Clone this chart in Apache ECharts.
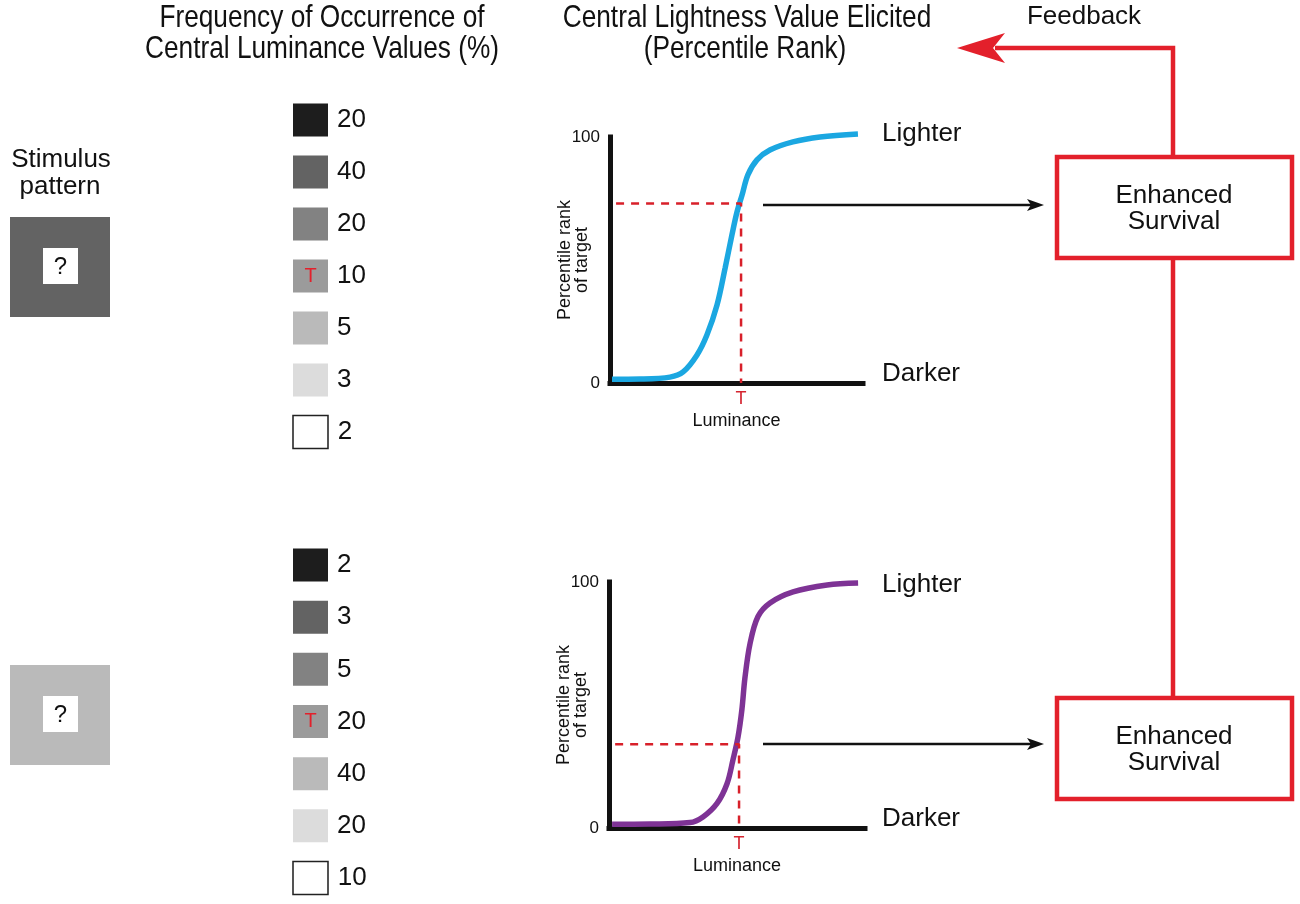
<!DOCTYPE html>
<html><head><meta charset="utf-8">
<script src="https://cdn.jsdelivr.net/npm/echarts@6/dist/echarts.min.js"></script>
<style>html,body{margin:0;padding:0;background:#fff}#c{width:1300px;height:904px}</style>
</head><body><div id="c"></div>
<script>
// ---------- data ----------
const freqTop = [20, 40, 20, 10, 5, 3, 2];
const freqBottom = [2, 3, 5, 20, 40, 20, 10];
const grayLevels = ['#1d1d1d', '#636363', '#828282', '#9b9b9b', '#bababa', '#dcdcdc', '#ffffff'];
const targetIndex = 3;
const yTicks = [0, 100];
// percentile rank curves (x = luminance 0..100, y = percentile rank)
const curveTop = [[0.8,1.5],[11.9,1.6],[23.7,2.4],[28.9,4.5],[34.4,11.4],[38.3,19.5],[42.3,31.7],[45.5,46.7],[48.2,60.2],[50.2,69.5],[52.2,76.4],[54.5,84.6],[58.1,90.7],[63.2,94.7],[72.3,98],[83,100],[98,101.2]];
const curveBottom = [[1.2,1.5],[16,1.6],[31.6,2.2],[36.7,4.5],[42.2,10],[46.1,18],[48.4,27.6],[50.4,37],[51.9,48],[53.1,61],[55.1,75],[58.2,86],[62.9,91.5],[71.9,96],[85.2,98.8],[97.3,99.6]];
const targetTop = {x: 51.8, y: 73, start: 2.4};
const targetBottom = {x: 50.8, y: 34, start: 2.4};

const RED = '#e3202b';
const F = '"Liberation Sans", Arial, sans-serif';

function argmax(a){let m=0;a.forEach((v,i)=>{if(v>a[m])m=i;});return m;}

function chartAxes(gi){
  return {
    x: {type:'value', gridIndex:gi, min:0, max:100, name:'Luminance', nameLocation:'middle', nameGap:29, nameMoveOverlap:false,
        nameTextStyle:{fontSize:18, color:'#111', fontFamily:F},
        axisLine:{show:true, lineStyle:{color:'#111', width:5, cap:'square'}}, axisTick:{show:false}, axisLabel:{show:false}, splitLine:{show:false}},
    y: {type:'value', gridIndex:gi, min:0, max:100, interval:100, name:'Percentile rank\nof target', nameLocation:'middle', nameRotate:90, nameGap:19, nameMoveOverlap:false,
        nameTextStyle:{fontSize:18, color:'#111', fontFamily:F, lineHeight:17},
        axisLine:{show:true, lineStyle:{color:'#111', width:5, cap:'square'}}, axisTick:{show:false},
        axisLabel:{show:true, fontSize:17, color:'#111', fontFamily:F, margin:10, customValues: yTicks}, splitLine:{show:false}}
  };
}
const a0 = chartAxes(0), a1 = chartAxes(1);

function curveSeries(gi, data, color){
  return {type:'line', xAxisIndex:gi, yAxisIndex:gi, data:data, smooth:0.35, showSymbol:false, clip:false,
    lineStyle:{color:color, width:5.5}, z:3, silent:true};
}
function dashSeries(gi, t){
  return {type:'line', xAxisIndex:gi, yAxisIndex:gi, showSymbol:true, symbolSize:0, clip:false, silent:true, z:4,
    lineStyle:{color:'#d8202a', width:2.5, type:[8,7]},
    data:[[t.start, t.y],[t.x, t.y],{value:[t.x, 0], label:{show:true, position:'bottom', distance:7, formatter:'T', color:'#d52530', fontSize:18, fontFamily:F}}]};
}
function squareSeries(gi, freq){
  return {type:'scatter', xAxisIndex:gi, yAxisIndex:gi, symbol:'rect', symbolSize:[35,33], silent:true,
    itemStyle:{opacity:1},
    data: freq.map((v,i)=>({value:[0,i], label:{formatter:String(v)},
      itemStyle:{opacity:1, color:grayLevels[i], borderColor: i===grayLevels.length-1 ? '#222' : grayLevels[i], borderWidth: i===grayLevels.length-1 ? 1.5 : 0}})),
    label:{show:true, position:'right', distance:9, fontSize:26, color:'#111', fontFamily:F}};
}
function targetMark(gi){
  return {type:'scatter', xAxisIndex:gi, yAxisIndex:gi, symbolSize:0, silent:true, z:5, itemStyle:{opacity:1},
    data:[[0,targetIndex]], label:{show:true, position:'inside', formatter:'T', color:'#e3202b', fontSize:20, fontFamily:F}};
}
function sqAxes(gi){
  return {
    x:{type:'category', gridIndex:gi, data:['f'], show:false},
    y:{type:'category', gridIndex:gi, data:grayLevels.map((c,i)=>'L'+i), inverse:true, show:false}
  };
}
const s2 = sqAxes(2), s3 = sqAxes(3);

function txt(x, y, t, size, opts, extra){
  return Object.assign({type:'text', x:x, y:y, silent:true, style:Object.assign({text:t, fontSize:size, fontFamily:F, fill:'#111', textAlign:'center', textVerticalAlign:'middle'}, opts||{})}, extra||{});
}
function title(x, y, t){ return txt(x, y, t, 32, null, {scaleX:0.82}); }
function stimulus(y, color){
  return [
    {type:'rect', shape:{x:10, y:y, width:100, height:100}, style:{fill:color}, silent:true},
    {type:'rect', shape:{x:43, y:y+31, width:35, height:36}, style:{fill:'#fff'}, silent:true},
    txt(60.5, y+50, '?', 24)
  ];
}
function blackArrow(y){
  return [
    {type:'line', shape:{x1:763, y1:y, x2:1036, y2:y}, style:{stroke:'#111', lineWidth:2.5}, silent:true},
    {type:'polygon', shape:{points:[[1044,y],[1027,y-6],[1031,y],[1027,y+6]]}, style:{fill:'#111'}, silent:true}
  ];
}
function box(y){
  return [
    {type:'rect', shape:{x:1057, y:y, width:235, height:101}, style:{fill:'#fff', stroke:RED, lineWidth:4.5}, silent:true},
    txt(1174, y+39, 'Enhanced', 26),
    txt(1174, y+65, 'Survival', 26)
  ];
}

const graphics = [].concat(
  [title(322, 18, 'Frequency of Occurrence of'),
   title(322, 49, 'Central Luminance Values (%)'),
   title(747, 18, 'Central Lightness Value Elicited'),
   title(745, 49, '(Percentile Rank)'),
   txt(1084, 17, 'Feedback', 26),
   txt(61, 160, 'Stimulus', 26),
   txt(60, 187, 'pattern', 26),
   txt(882, 134, 'Lighter', 26, {textAlign:'left'}),
   txt(882, 374, 'Darker', 26, {textAlign:'left'}),
   txt(882, 585, 'Lighter', 26, {textAlign:'left'}),
   txt(882, 819, 'Darker', 26, {textAlign:'left'})],
  stimulus(217, grayLevels[argmax(freqTop)]),
  stimulus(665, grayLevels[argmax(freqBottom)]),
  blackArrow(205), blackArrow(744),
  [{type:'polyline', shape:{points:[[1173,157],[1173,48],[995,48]]}, style:{stroke:RED, lineWidth:4.5, fill:null}, silent:true},
   {type:'polygon', shape:{points:[[957,48],[1005,33],[993,48],[1005,63]]}, style:{fill:RED}, silent:true},
   {type:'line', shape:{x1:1173, y1:258, x2:1173, y2:698}, style:{stroke:RED, lineWidth:4.5}, silent:true}],
  box(157), box(698)
);

const chart = echarts.init(document.getElementById('c'), null, {renderer:'canvas'});
chart.setOption({
  animation:false,
  backgroundColor:'#fff',
  grid:[
    {left:610, top:137, width:253, height:246},
    {left:609, top:582, width:256, height:246},
    {left:293, top:94, width:35, height:364},
    {left:293, top:539, width:35, height:365}
  ],
  xAxis:[a0.x, a1.x, s2.x, s3.x],
  yAxis:[a0.y, a1.y, s2.y, s3.y],
  series:[
    curveSeries(0, curveTop, '#1ba7e1'),
    dashSeries(0, targetTop),
    curveSeries(1, curveBottom, '#7e3395'),
    dashSeries(1, targetBottom),
    squareSeries(2, freqTop), targetMark(2),
    squareSeries(3, freqBottom), targetMark(3)
  ],
  graphic: graphics
});
</script></body></html>
